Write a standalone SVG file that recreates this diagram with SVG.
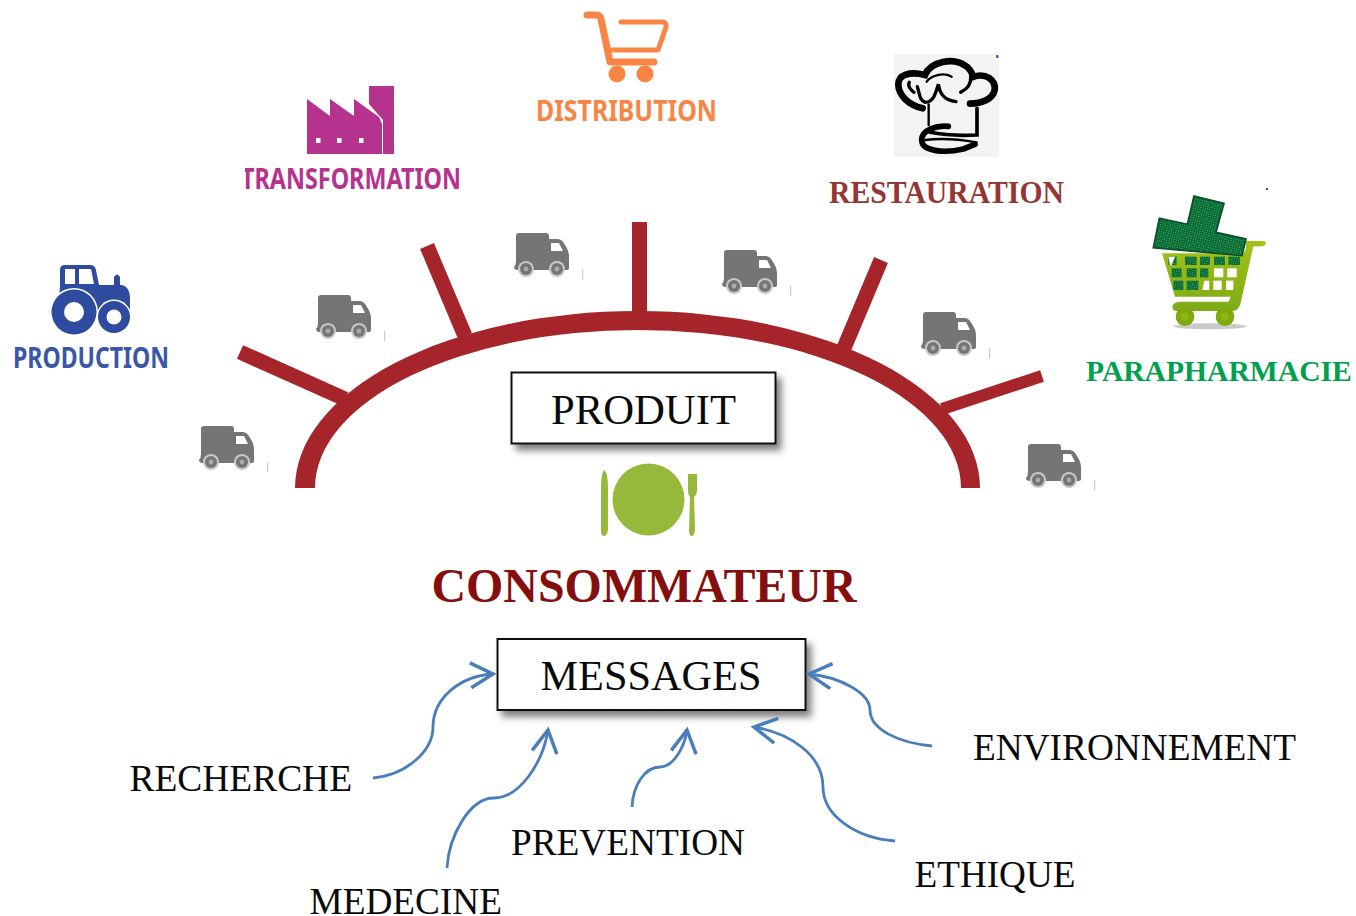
<svg xmlns="http://www.w3.org/2000/svg" width="1356" height="916" viewBox="0 0 1356 916">
<style>
text{white-space:pre}
.serif{font-family:"Liberation Serif","Times New Roman",serif;fill:#0a0a0a}
.lab{font-size:37px}
.sans{font-family:"Noto Sans","Open Sans",sans-serif;font-weight:700;font-size:29px}
.sb{font-family:"Liberation Serif","Times New Roman",serif;font-weight:700}
.box{fill:#fff;stroke:#111;stroke-width:2;filter:url(#shadow)}
.arrow{fill:none;stroke:#4a7ebb;stroke-width:2.8;marker-end:url(#head)}
.spoke{stroke:#a6252a;stroke-width:15;fill:none}
.soft{filter:url(#soft)}
</style>
<defs>
<filter id="shadow" x="-10%" y="-15%" width="125%" height="140%"><feDropShadow dx="5" dy="6" stdDeviation="3.5" flood-color="#000" flood-opacity=".5"/></filter>
<filter id="soft" x="-10%" y="-10%" width="120%" height="120%"><feGaussianBlur stdDeviation=".7"/></filter>
<marker id="head" markerUnits="userSpaceOnUse" markerWidth="30" markerHeight="30" refX="20" refY="12" orient="auto" viewBox="0 0 24 24"><path d="M2 2L20 12L2 22" fill="none" stroke="#4a7ebb" stroke-width="2.8"/></marker>
<pattern id="dots" width="7" height="7" patternUnits="userSpaceOnUse" patternTransform="rotate(13)"><rect width="7" height="7" fill="#0a6a36"/><circle cx="3.5" cy="3.5" r="1.4" fill="#5fd584"/></pattern>
<linearGradient id="lime" x1="0" y1="0" x2="0" y2="1"><stop offset="0" stop-color="#a4c21c"/><stop offset="1" stop-color="#7dab12"/></linearGradient>
<g id="truck">
<g class="soft">
<path d="M3 4Q3 1 6 1H33Q36 1 36 4V7H45Q49 7 52 13Q56 19 56 24V36Q56 38 53 38H5Q1 38 1 35Q3 33 3 29Z" fill="#757575"/>
<path d="M38 11H46L50 19H38Z" fill="#fff"/>
<circle cx="13" cy="37" r="8" fill="#c8c8c8"/><circle cx="44" cy="37" r="8" fill="#c8c8c8"/>
<circle cx="13" cy="37" r="6" fill="#757575"/><circle cx="44" cy="37" r="6" fill="#757575"/>
<circle cx="13" cy="37" r="2.400" fill="#aaa"/><circle cx="44" cy="37" r="2.400" fill="#aaa"/>
</g>
<rect x="69" y="37" width="1.2" height="10" fill="#ccc"/>
</g>
</defs>
<rect width="1356" height="916" fill="#fff"/>

<g id="arc">
<path d="M295 488A342.500 177 0 0 1 980 488H961A323 158 0 0 0 315 488Z" fill="#a6252a"/>
<path class="spoke" d="M240 352L345 399"/>
<path class="spoke" d="M427 246L465 336"/>
<path class="spoke" d="M639.500 222V320"/>
<path class="spoke" d="M881 260L844 348"/>
<path class="spoke" style="stroke-width:12" d="M1042 376L942 409"/>
</g>

<g id="trucks">
<use href="#truck" x="198" y="425"/>
<use href="#truck" x="315" y="294"/>
<use href="#truck" x="513" y="232"/>
<use href="#truck" x="721" y="249"/>
<use href="#truck" x="920" y="311"/>
<use href="#truck" x="1025" y="443"/>
</g>

<g id="production">
<g class="soft" fill="#2e4ba0">
<path d="M60 285V270Q60 265 65 265H90Q95 265 96 270L99 285H114V277Q117 272 120 277V285H122Q130 287 130 298V315H58Z"/>
<path d="M65 269H75V284H65ZM79 269H91L94 284H79Z" fill="#fff"/>
<circle cx="74" cy="312" r="24" fill="#fff"/><circle cx="114" cy="317" r="17.500" fill="#fff"/>
<circle cx="74" cy="312" r="22.500"/><circle cx="74" cy="312" r="10" fill="#fff"/>
<circle cx="114" cy="317" r="16"/><circle cx="114" cy="317" r="7.500" fill="#fff"/>
</g>
<text class="sans" x="13" y="368" fill="#3a56a8" textLength="156" lengthAdjust="spacingAndGlyphs">PRODUCTION</text>
</g>

<g id="transformation">
<g class="soft">
<path d="M307 99L330 116V99L354 116V99L379 117L382 124V154H307Z" fill="#b5338f"/>
<path d="M369 86H394V154H383V120L369 104Z" fill="#b5338f"/>
<rect x="316" y="138" width="4.500" height="5" fill="#fff"/><rect x="337" y="138" width="4.500" height="5" fill="#fff"/><rect x="359" y="138" width="4.500" height="5" fill="#fff"/>
</g>
<clipPath id="cut"><rect x="245" y="160" width="225" height="35"/></clipPath>
<g clip-path="url(#cut)"><text class="sans" x="241" y="189" fill="#b5338f" textLength="220" lengthAdjust="spacingAndGlyphs">TRANSFORMATION</text></g>
</g>

<g id="distribution">
<g class="soft" fill="none" stroke="#f98545" stroke-linecap="round" stroke-linejoin="round">
<path d="M587 15H597Q600 15 601 19L610 62H654" stroke-width="7"/>
<path d="M621 22H662Q667 22 666 27L658 50H610" stroke-width="5"/>
<circle cx="617" cy="74" r="8.500" fill="#f98545" stroke="none"/><circle cx="645" cy="74" r="8.500" fill="#f98545" stroke="none"/>
</g>
<text class="sans" x="536" y="121" fill="#f98545" textLength="181" lengthAdjust="spacingAndGlyphs">DISTRIBUTION</text>
</g>

<g id="restauration">
<rect x="894" y="54" width="105" height="103" fill="#f3f3f3"/>
<rect x="994" y="54" width="6" height="6" fill="#fff"/><rect x="996" y="55" width="2.500" height="3" fill="#4a55d0"/>
<g class="soft" fill="none" stroke="#000" stroke-linecap="round" transform="translate(880 45) scale(.3333)">
<path d="M128 190C85 180 55 150 55 118C55 90 88 78 135 90C150 52 220 32 262 66C272 76 278 85 278 96C318 82 348 105 344 135C338 163 305 176 270 176" stroke-width="20"/>
<path d="M140 110C152 92 190 80 215 95" stroke-width="7"/>
<path d="M272 96C274 118 262 132 242 142M88 112C82 122 92 135 102 142" stroke-width="10"/>
<path d="M112 125C120 150 118 165 135 172C160 172 165 150 175 118C180 150 195 165 228 170" stroke-width="10"/>
<path d="M146 178V240" stroke-width="7"/>
<path d="M291 190V270C250 272 190 270 150 262" stroke-width="11"/>
<path d="M205 244C170 240 125 255 125 285C125 318 190 326 250 312L285 298" stroke-width="17"/>
<path d="M135 285C190 278 250 285 290 292" stroke-width="7"/>
</g>
<text class="sb" x="829" y="203" font-size="31" fill="#943634" textLength="235" lengthAdjust="spacingAndGlyphs">RESTAURATION</text>
</g>

<g id="parapharmacie">
<rect x="1266" y="188" width="2" height="2" fill="#3a45c0"/>
<g class="soft" transform="translate(1140 185) scale(.3333)">
<ellipse cx="210" cy="424" rx="110" ry="9" fill="#c9c9c9"/>
<path d="M318 192V168H365Q382 166 376 180Q366 186 340 184L304 345Q298 378 280 378H110Q95 378 98 362Q104 350 120 350H266L272 335H105L66 205H310Z" fill="url(#lime)"/>
<circle cx="135" cy="395" r="28" fill="#7eaa10"/><circle cx="255" cy="395" r="28" fill="#7eaa10"/>
<circle cx="135" cy="395" r="12" fill="#8fb512"/><circle cx="255" cy="395" r="12" fill="#8fb512"/>
<g fill="url(#dots)">
<rect x="85" y="215" width="25" height="25"/><rect x="135" y="215" width="35" height="25"/><rect x="180" y="215" width="30" height="25"/><rect x="222" y="215" width="33" height="25"/><rect x="265" y="215" width="35" height="25"/>
<rect x="95" y="250" width="30" height="27"/><rect x="140" y="250" width="30" height="27"/><rect x="180" y="250" width="25" height="27"/>
<rect x="100" y="287" width="30" height="28"/><rect x="140" y="287" width="35" height="28"/>
</g>
<g fill="#fff">
<path d="M85 215H105L95 240H90Z"/>
<rect x="222" y="250" width="28" height="27"/><rect x="262" y="250" width="28" height="27"/>
<path d="M193 287H208V315H187Z"/><rect x="220" y="287" width="25" height="28"/><rect x="258" y="287" width="22" height="28"/>
</g>
<path d="M162 33L252 55L228 142L318 162L306 212L40 188L58 100L142 118Z" fill="url(#dots)" stroke="#07502a" stroke-width="5"/>
</g>
<text class="sb" x="1086" y="380.500" font-size="29.600" fill="#00a04c">PARAPHARMACIE</text>
</g>

<g id="produit">
<rect class="box" x="511.500" y="372.500" width="264" height="71"/>
<text class="serif" x="551" y="424" font-size="43" textLength="185" lengthAdjust="spacingAndGlyphs">PRODUIT</text>
</g>

<g id="consommateur">
<g class="soft" fill="#97b93b">
<circle cx="648.500" cy="499.500" r="36"/>
<path d="M604 470Q608 472 608 490V530Q607 536 604 536Q601 536 601 530V490Q601 474 604 470Z"/>
<path d="M688 474H697V490Q697 495 694 497L695 530Q694 536 692 536Q689 536 689 530L690 497Q688 495 688 490Z"/>
</g>
<text class="sb" x="431.500" y="602" font-size="48" fill="#850f0f" textLength="425" lengthAdjust="spacingAndGlyphs">CONSOMMATEUR</text>
</g>

<g id="messages">
<rect class="box" x="497.500" y="639" width="308" height="71"/>
<text class="serif" x="540.500" y="690" font-size="42" textLength="221" lengthAdjust="spacingAndGlyphs">MESSAGES</text>
</g>

<g id="connectors">
<path class="arrow" d="M373 778C405 775 433 752 433 727C433 698 460 676 493 674"/>
<path class="arrow" d="M447 868C449 835 470 798 494 798C520 798 543 762 548 730"/>
<path class="arrow" d="M632 807C633 785 645 767 660 767C672 767 684 750 687 730"/>
<path class="arrow" d="M895 841C855 838 823 815 823 787C823 755 790 733 754 727"/>
<path class="arrow" d="M932 746C900 743 870 730 870 710C870 693 840 677 809 674"/>
</g>

<g id="recherche"><text class="serif lab" x="129.500" y="791" textLength="222.500" lengthAdjust="spacingAndGlyphs">RECHERCHE</text></g>
<g id="medecine"><text class="serif lab" x="309.500" y="914" textLength="192.500" lengthAdjust="spacingAndGlyphs">MEDECINE</text></g>
<g id="prevention"><text class="serif lab" x="511" y="855" textLength="234" lengthAdjust="spacingAndGlyphs">PREVENTION</text></g>
<g id="ethique"><text class="serif lab" x="914.500" y="887" textLength="161" lengthAdjust="spacingAndGlyphs">ETHIQUE</text></g>
<g id="environnement"><text class="serif lab" x="973" y="760" textLength="323" lengthAdjust="spacingAndGlyphs">ENVIRONNEMENT</text></g>
</svg>
